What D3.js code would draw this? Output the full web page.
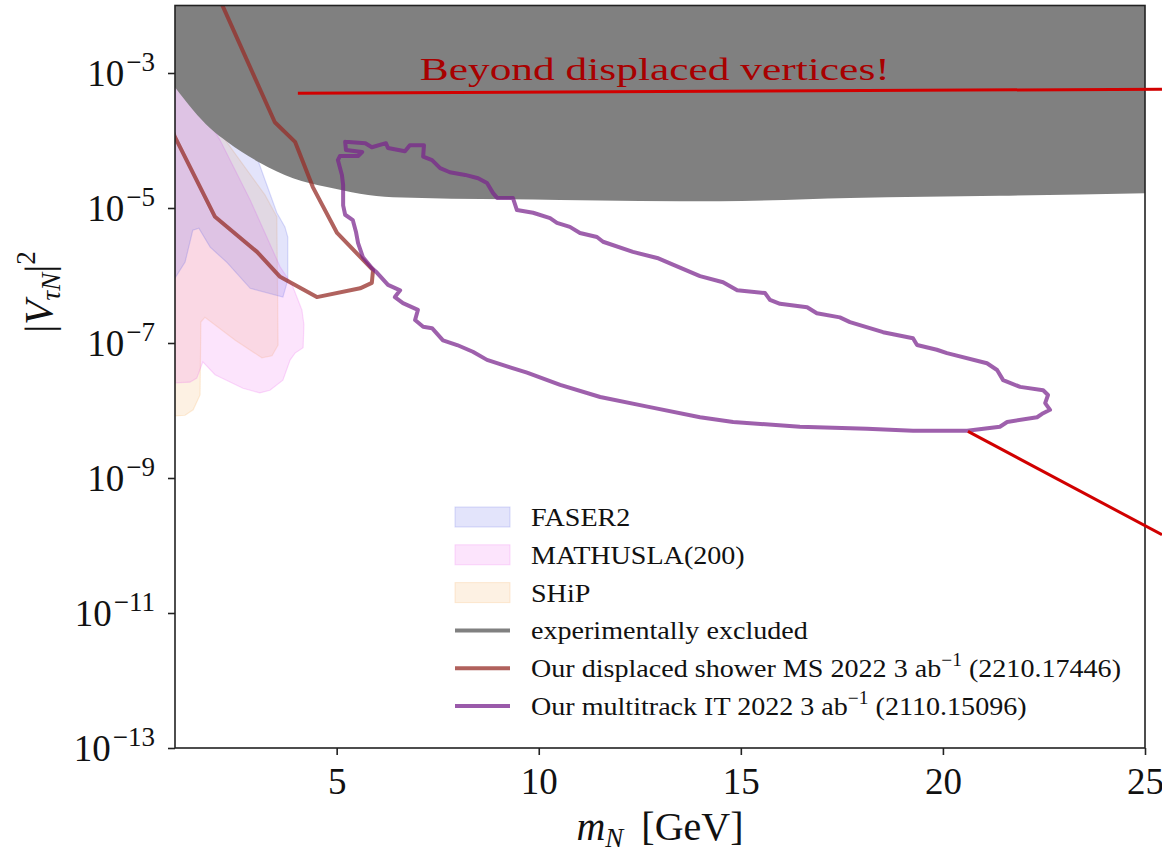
<!DOCTYPE html>
<html>
<head>
<meta charset="utf-8">
<script src="https://cdn.jsdelivr.net/npm/d3@7"></script>
<style>
  html, body { margin: 0; padding: 0; background: #fff; }
  svg { display: block; }
  text { font-family: "Liberation Serif", "DejaVu Serif", serif; }
</style>
</head>
<body>
<svg id="chart" width="1162" height="853"></svg>
<script>
// Heavy neutral lepton sensitivity in the (m_N, |V_tauN|^2) plane.
// Every curve is stored as [mass in GeV, log10 |V_tauN|^2].

const massTicks = [5, 10, 15, 20, 25];
const couplingTickExponents = [-3, -5, -7, -9, -11, -13];

// Lower edge of the experimentally excluded region (filled up to the top)
const excludedBoundary = [
  [1.00, -3.21], [1.45, -3.55], [1.87, -3.82], [2.29, -4.02], [3.10, -4.33],
  [3.92, -4.56], [4.76, -4.69], [6.39, -4.84], [10.52, -4.88], [14.48, -4.90],
  [17.70, -4.85], [21.41, -4.82], [25.00, -4.78]
];

// FASER2 projected reach
const faser2Region = [
  [1.00, -2.96], [2.61, -3.70], [3.05, -4.29], [3.23, -4.59], [3.52, -5.07],
  [3.72, -5.28], [3.79, -5.43], [3.79, -6.07], [3.67, -6.32], [2.86, -6.19],
  [2.29, -5.81], [1.87, -5.58], [1.59, -5.30], [1.44, -5.33], [1.25, -5.80],
  [1.00, -6.04]
];

// MATHUSLA(200) projected reach
const mathuslaRegion = [
  [1.00, -2.96], [1.74, -3.62], [2.11, -3.99], [2.86, -4.88], [3.60, -5.87],
  [3.90, -6.14], [4.14, -6.51], [4.19, -6.73], [4.17, -7.07], [3.97, -7.15],
  [3.85, -7.25], [3.67, -7.55], [3.35, -7.70], [3.10, -7.74], [2.68, -7.67],
  [1.99, -7.47], [1.69, -7.28], [1.54, -7.52], [1.37, -7.58], [1.00, -7.59]
];

// SHiP projected reach
const shipRegion = [
  [1.00, -2.96], [2.24, -3.99], [3.23, -4.81], [3.52, -5.13], [3.55, -7.03],
  [3.40, -7.19], [3.15, -7.22], [2.49, -6.96], [1.74, -6.62], [1.64, -6.69],
  [1.62, -7.77], [1.45, -7.99], [1.25, -8.07], [1.00, -8.08]
];

// Displaced shower in the muon spectrometer, 3 ab^-1
const displacedShowerMS = [
  [1.89, -1.62], [3.47, -3.73], [3.97, -4.02], [4.41, -4.69], [5.01, -5.37],
  [5.90, -5.92], [5.87, -6.11], [5.58, -6.19], [4.51, -6.32], [3.60, -6.02],
  [3.03, -5.65], [1.99, -5.13], [1.00, -3.95], [0.63, -3.40]
];

// Multitrack displaced vertex in the inner tracker, 3 ab^-1 (closed contour)
const multitrackIT = [
  [5.21, -4.02], [5.71, -4.04], [5.87, -4.10], [6.22, -4.04], [6.27, -4.11],
  [6.69, -4.16], [6.81, -4.07], [7.16, -4.07], [7.14, -4.24], [7.36, -4.29],
  [7.56, -4.41], [7.80, -4.47], [8.18, -4.51], [8.50, -4.56], [8.72, -4.63],
  [8.87, -4.78], [8.97, -4.85], [9.36, -4.85], [9.46, -5.03], [9.86, -5.07],
  [10.28, -5.15], [10.45, -5.22], [10.77, -5.28], [11.02, -5.37], [11.44, -5.43],
  [11.59, -5.50], [12.33, -5.65], [12.93, -5.74], [13.32, -5.84], [13.99, -6.01],
  [14.56, -6.10], [14.91, -6.22], [15.60, -6.26], [15.72, -6.36], [15.97, -6.42],
  [16.64, -6.47], [16.88, -6.56], [17.45, -6.62], [17.70, -6.69], [18.52, -6.84],
  [19.26, -6.93], [19.36, -7.03], [19.85, -7.10], [20.10, -7.15], [21.09, -7.30],
  [21.34, -7.40], [21.49, -7.55], [21.91, -7.65], [22.48, -7.70], [22.60, -7.77],
  [22.53, -7.89], [22.65, -7.99], [22.48, -8.04], [22.33, -8.10], [21.59, -8.17],
  [21.41, -8.24], [20.60, -8.30], [19.26, -8.30], [18.12, -8.27], [16.46, -8.24],
  [14.81, -8.17], [13.99, -8.10], [12.75, -7.95], [11.52, -7.80], [10.53, -7.62],
  [9.71, -7.44], [9.29, -7.36], [8.72, -7.25], [8.37, -7.13], [7.98, -7.03],
  [7.63, -6.96], [7.36, -6.78], [7.14, -6.76], [6.94, -6.66], [7.01, -6.51],
  [6.64, -6.41], [6.44, -6.32], [6.57, -6.22], [6.27, -6.14], [6.00, -5.96],
  [5.87, -5.89], [5.65, -5.73], [5.53, -5.52], [5.48, -5.36], [5.40, -5.18],
  [5.21, -5.10], [5.16, -4.96], [5.16, -4.66], [5.13, -4.51], [5.03, -4.29],
  [5.08, -4.23], [5.53, -4.23], [5.63, -4.17], [5.23, -4.14], [5.21, -4.02]
];

// Red call-outs: a horizontal rule under the headline and a leader from the contour tip
const headline = { text: "Beyond displaced vertices!", mass: 12.87, exp: -3.10 };
const headlineRule = [[4.04, -3.30], [25.42, -3.24]];
const tipLeader = [[20.62, -8.31], [25.42, -9.84]];

const legendEntries = [
  { label: "FASER2", kind: "patch", fill: "rgb(80,90,230)" },
  { label: "MATHUSLA(200)", kind: "patch", fill: "rgb(235,90,235)" },
  { label: "SHiP", kind: "patch", fill: "rgb(245,170,80)" },
  { label: "experimentally excluded", kind: "line", stroke: "#808080" },
  { label: "Our displaced shower MS 2022 3 ab", sup: "\u22121", tail: " (2210.17446)", kind: "line", stroke: "#b0615c" },
  { label: "Our multitrack IT 2022 3 ab", sup: "\u22121", tail: " (2110.15096)", kind: "line", stroke: "#9a5aaa" }
];

// ---------------------------------------------------------------------------
const svg = d3.select("#chart");
const plot = { left: 175, right: 1145, top: 5.5, bottom: 748 };

const x = d3.scaleLinear().domain([1, 25]).range([plot.left, plot.right]);
const y = d3.scaleLog().domain([1e-13, 1e-2]).range([plot.bottom, plot.top]);
const px = d => x(d[0]);
const py = d => y(Math.pow(10, d[1]));

svg.append("defs").append("clipPath").attr("id", "plotClip")
  .append("rect")
  .attr("x", plot.left).attr("y", plot.top)
  .attr("width", plot.right - plot.left).attr("height", plot.bottom - plot.top);

const inner = svg.append("g").attr("clip-path", "url(#plotClip)");
const polygon = d3.line().x(px).y(py);

// Projected reaches, translucent
[
  { data: shipRegion, color: "rgb(245,170,80)" },
  { data: mathuslaRegion, color: "rgb(235,90,235)" },
  { data: faser2Region, color: "rgb(80,90,230)" }
].forEach(r => {
  inner.append("path")
    .attr("d", polygon(r.data) + "Z")
    .attr("fill", r.color).attr("fill-opacity", 0.16)
    .attr("stroke", r.color).attr("stroke-opacity", 0.2).attr("stroke-width", 1.2);
});

// Excluded region
const excludedArea = d3.area()
  .x(px).y0(y(1e-2)).y1(py)
  .curve(d3.curveMonotoneX);
inner.append("path")
  .attr("d", excludedArea(excludedBoundary))
  .attr("fill", "#808080");

// Our contours
inner.append("path")
  .attr("d", polygon(displacedShowerMS))
  .attr("fill", "none")
  .attr("stroke", "rgb(150,45,40)").attr("stroke-opacity", 0.75)
  .attr("stroke-width", 4).attr("stroke-linejoin", "round");

inner.append("path")
  .attr("d", polygon(multitrackIT))
  .attr("fill", "none")
  .attr("stroke", "rgb(120,35,140)").attr("stroke-opacity", 0.72)
  .attr("stroke-width", 4).attr("stroke-linejoin", "round").attr("stroke-linecap", "round");

// Axes
const xAxis = d3.axisBottom(x).tickValues(massTicks).tickSize(7).tickFormat("");
const gx = svg.append("g").attr("transform", `translate(0,${plot.bottom})`).call(xAxis);
gx.select(".domain").remove();
gx.selectAll(".tick line").attr("stroke", "#222").attr("stroke-width", 1.6);
gx.selectAll(".tick").append("text")
  .attr("y", 46).attr("text-anchor", "middle")
  .attr("fill", "#111").attr("font-size", 37)
  .text(d => d);

const yAxis = d3.axisLeft(y).tickValues(couplingTickExponents.map(e => Math.pow(10, e)))
  .tickSize(7).tickFormat("");
const gy = svg.append("g").attr("transform", `translate(${plot.left},0)`).call(yAxis);
gy.select(".domain").remove();
gy.selectAll(".tick line").attr("stroke", "#222").attr("stroke-width", 1.6);
gy.selectAll(".tick").each(function (d) {
  const e = Math.round(Math.log10(d));
  const t = d3.select(this).append("text")
    .attr("x", -20).attr("y", 12).attr("text-anchor", "end")
    .attr("fill", "#111").attr("font-size", 37);
  t.append("tspan").text("10");
  t.append("tspan").attr("font-size", 27).attr("dx", 2).attr("dy", -15).text("\u2212" + (-e));
});

// Frame
svg.append("rect")
  .attr("x", plot.left).attr("y", plot.top)
  .attr("width", plot.right - plot.left).attr("height", plot.bottom - plot.top)
  .attr("fill", "none").attr("stroke", "#222").attr("stroke-width", 1.6);

// Axis titles
const xt = svg.append("text")
  .attr("x", (plot.left + plot.right) / 2).attr("y", 840)
  .attr("text-anchor", "middle").attr("fill", "#111").attr("font-size", 40);
xt.append("tspan").attr("font-style", "italic").text("m");
xt.append("tspan").attr("font-style", "italic").attr("font-size", 27).attr("dy", 7).text("N");
xt.append("tspan").attr("dy", -7).text("\u2009 [GeV]");

const yt = svg.append("text")
  .attr("transform", "translate(52,292) rotate(-90)")
  .attr("text-anchor", "middle").attr("fill", "#111").attr("font-size", 40);
yt.append("tspan").text("|");
yt.append("tspan").attr("font-style", "italic").text("V");
yt.append("tspan").attr("font-style", "italic").attr("font-size", 27).attr("dy", 8).text("\u03c4N");
yt.append("tspan").attr("dy", -8).text("|");
yt.append("tspan").attr("font-size", 27).attr("dy", -17).text("2");

// Legend
const legend = svg.append("g").attr("transform", "translate(455,517)");
const rowStep = 37.8;
const legendStretch = 1.08;   // widen the serif face to the label widths
legendEntries.forEach((entry, i) => {
  const row = legend.append("g").attr("transform", `translate(0,${i * rowStep})`);
  if (entry.kind === "patch") {
    row.append("rect")
      .attr("x", 0).attr("y", -10).attr("width", 55).attr("height", 20)
      .attr("fill", entry.fill).attr("fill-opacity", 0.16)
      .attr("stroke", entry.fill).attr("stroke-opacity", 0.22);
  } else {
    row.append("line")
      .attr("x1", 0).attr("x2", 55).attr("y1", 0).attr("y2", 0)
      .attr("stroke", entry.stroke).attr("stroke-width", 4);
  }
  const t = row.append("text")
    .attr("x", 76).attr("y", 9)
    .attr("fill", "#111").attr("font-size", 26);
  t.append("tspan").text(entry.label);
  if (entry.sup) {
    t.append("tspan").attr("font-size", 18).attr("dy", -11).text(entry.sup);
    t.append("tspan").attr("dy", 11).text(entry.tail);
  }
  const natural = t.node().getComputedTextLength();
  t.attr("textLength", natural * legendStretch).attr("lengthAdjust", "spacingAndGlyphs");
});

// Red call-outs
const redLine = d3.line().x(px).y(py);
svg.append("path").attr("d", redLine(headlineRule))
  .attr("stroke", "#d10000").attr("stroke-width", 3).attr("fill", "none");
svg.append("path").attr("d", redLine(tipLeader))
  .attr("stroke", "#d10000").attr("stroke-width", 3).attr("fill", "none");
svg.append("text")
  .attr("x", x(headline.mass)).attr("y", y(Math.pow(10, headline.exp)))
  .attr("text-anchor", "middle")
  .attr("font-family", "'DejaVu Serif', serif")
  .attr("font-size", 31).attr("fill", "#a80000")
  .attr("textLength", 470).attr("lengthAdjust", "spacingAndGlyphs")
  .text(headline.text);
</script>
</body>
</html>
